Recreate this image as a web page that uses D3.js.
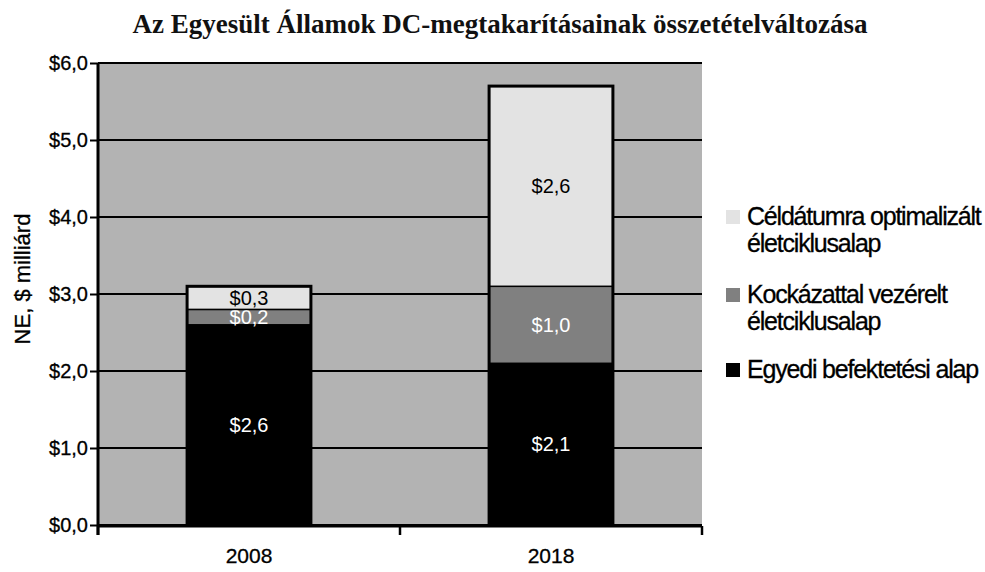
<!DOCTYPE html>
<html>
<head>
<meta charset="utf-8">
<script src="https://cdn.jsdelivr.net/npm/d3@7"></script>
<style>
  body { margin: 0; background: #fff; }
  text { font-family: "Liberation Sans", Arial, sans-serif; }
</style>
</head>
<body>
<svg id="chart" width="985" height="572"></svg>
<script>

// data
let years = ["2008", "2018"];
let egyedi = [2.6, 2.1];
let kockazat = [0.2, 1.0];
let celdatum = [0.3, 2.6];
let yTicks = [0, 1, 2, 3, 4, 5, 6];

let colors = ["#000000", "#808080", "#e3e3e3"];
let labelColors = ["#ffffff", "#ffffff", "#000000"];

function makeChart(id) {
    let width = 985;
    let height = 572;
    let margins = {top: 63, right: 283, bottom: 47, left: 98};
    let innerWidth = width - margins.left - margins.right;
    let innerHeight = height - margins.top - margins.bottom;

    let chart = d3.select("#" + id);

    chart.append("text")
        .attr("x", 500)
        .attr("y", 33)
        .attr("text-anchor", "middle")
        .style("font-family", "'Liberation Serif', 'Times New Roman', serif")
        .style("font-weight", "bold")
        .style("font-size", "27px")
        .style("fill", "#111")
        .text("Az Egyesült Államok DC-megtakarításainak összetételváltozása");

    let g = chart.append("g")
        .attr("transform", `translate(${margins.left},${margins.top})`);

    g.append("rect")
        .attr("width", innerWidth)
        .attr("height", innerHeight)
        .style("fill", "#b3b3b3");

    let xScale = d3.scaleBand().domain(years).range([0, innerWidth])
        .paddingInner(0.59).paddingOuter(0.295);
    let yScale = d3.scaleLinear().domain([0, 6]).range([innerHeight, 0]);

    // gridlines
    g.selectAll(".grid").data(yTicks).enter().append("line")
        .attr("class", "grid")
        .attr("x1", 0).attr("x2", innerWidth)
        .attr("y1", d => yScale(d)).attr("y2", d => yScale(d))
        .style("stroke", "#000").style("stroke-width", 2);

    let stacked = d3.stack().keys([0, 1, 2])(years.map((y, i) => ({
        year: y, 0: egyedi[i], 1: kockazat[i], 2: celdatum[i]
    })));

    let layers = g.selectAll(".layer").data(stacked).enter().append("g")
        .attr("class", "layer");

    layers.selectAll("rect").data(d => d.map(s => ({s: s, key: d.key}))).enter().append("rect")
        .attr("x", d => xScale(d.s.data.year))
        .attr("y", d => yScale(d.s[1]))
        .attr("width", xScale.bandwidth())
        .attr("height", d => yScale(d.s[0]) - yScale(d.s[1]))
        .style("fill", d => colors[d.key])
        .style("stroke", "#000")
        .style("stroke-width", 1.5);

    // outer border of each bar
    g.selectAll(".outline").data(years).enter().append("rect")
        .attr("class", "outline")
        .attr("x", d => xScale(d))
        .attr("y", (d, i) => yScale(egyedi[i] + kockazat[i] + celdatum[i]))
        .attr("width", xScale.bandwidth())
        .attr("height", (d, i) => innerHeight - yScale(egyedi[i] + kockazat[i] + celdatum[i]))
        .style("fill", "none")
        .style("stroke", "#000")
        .style("stroke-width", 3);

    layers.selectAll(".lbl").data(d => d.map(s => ({s: s, key: d.key}))).enter().append("text")
        .attr("class", "lbl")
        .attr("x", d => xScale(d.s.data.year) + xScale.bandwidth() / 2)
        .attr("y", d => yScale((d.s[0] + d.s[1]) / 2))
        .attr("dy", "0.36em")
        .attr("text-anchor", "middle")
        .style("font-size", "20px")
        .style("fill", d => labelColors[d.key])
        .text(d => "$" + (d.s[1] - d.s[0]).toFixed(1).replace(".", ","));

    // axes
    let yAxis = g.append("g")
        .call(d3.axisLeft(yScale).tickValues(yTicks).tickSize(8).tickPadding(2)
            .tickFormat(d => "$" + d.toFixed(1).replace(".", ",")));
    yAxis.select(".domain").style("stroke-width", 3).attr("d", `M0,0V${innerHeight + 10}`);
    yAxis.selectAll(".tick line").style("stroke-width", 2);
    yAxis.selectAll("text").style("font-size", "20px").style("fill", "#000")
        .style("stroke", "#000").style("stroke-width", 0.3);

    let xAxis = g.append("g")
        .attr("transform", `translate(0,${innerHeight + 1})`);
    xAxis.append("line")
        .attr("x1", 0).attr("x2", innerWidth)
        .style("stroke", "#000").style("stroke-width", 3);
    xAxis.selectAll(".xt").data([0, 1, 2]).enter().append("line")
        .attr("x1", d => d * xScale.step()).attr("x2", d => d * xScale.step())
        .attr("y1", 0).attr("y2", 9)
        .style("stroke", "#000").style("stroke-width", 2.5);
    xAxis.selectAll(".xl").data(years).enter().append("text")
        .attr("x", d => xScale(d) + xScale.bandwidth() / 2)
        .attr("y", 37)
        .attr("text-anchor", "middle")
        .style("font-size", "21px")
        .style("stroke", "#000").style("stroke-width", 0.3)
        .text(d => d);

    chart.append("text")
        .attr("transform", `translate(30,279) rotate(-90)`)
        .attr("text-anchor", "middle")
        .style("font-size", "22px")
        .style("stroke", "#000").style("stroke-width", 0.3)
        .text("NE, $ milliárd");

    // legend
    let legendRows = [
        {lines: ["Céldátumra optimalizált", "életciklusalap"], color: colors[2], y: 217},
        {lines: ["Kockázattal vezérelt", "életciklusalap"], color: colors[1], y: 295},
        {lines: ["Egyedi befektetési alap"], color: colors[0], y: 370}
    ];
    let legend = chart.append("g");
    legendRows.forEach(r => {
        legend.append("rect")
            .attr("x", 726).attr("y", r.y - 7)
            .attr("width", 14).attr("height", 14)
            .style("fill", r.color);
        r.lines.forEach((l, j) => {
            legend.append("text")
                .attr("x", 747).attr("y", r.y + 8 + j * 27)
                .style("font-size", "25px")
                .style("letter-spacing", "-1.2px")
                .style("stroke", "#000").style("stroke-width", 0.3)
                .text(l);
        });
    });
}

makeChart("chart");
</script>
</body>
</html>
